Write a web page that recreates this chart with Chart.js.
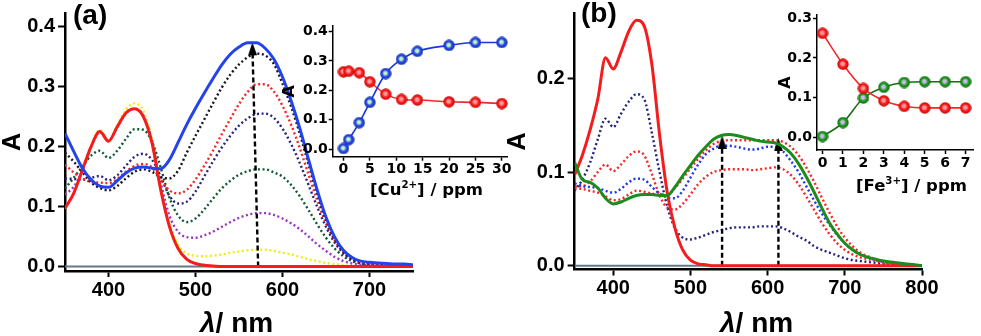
<!DOCTYPE html>
<html>
<head>
<meta charset="utf-8">
<script src="https://cdn.jsdelivr.net/npm/chart.js@4.4.1/dist/chart.umd.min.js"></script>
<style>
  body { margin: 0; background: #fff; }
  #wrap { position: relative; width: 981px; height: 336px; overflow: hidden;
          font-family: "Liberation Sans", Arial, sans-serif; font-weight: bold; color: #000; }
  #wrap canvas { position: absolute; }
  .lbl { position: absolute; white-space: nowrap; line-height: 1; }
  .ins { font-family: "DejaVu Sans", sans-serif; }
  .lbl sup { font-size: 0.62em; line-height: 0; vertical-align: 0.7em; }
</style>
</head>
<body>
<div id="wrap">
  <canvas id="mainA" width="440" height="336" style="left:0;top:0"></canvas>
  <canvas id="mainB" width="491" height="336" style="left:490px;top:0"></canvas>
  <canvas id="insetA" width="245" height="195" style="left:270px;top:10px"></canvas>
  <canvas id="insetB" width="206" height="190" style="left:775px;top:5px"></canvas>

  <div class="lbl" style="left:73px;top:1px;font-size:28px">(a)</div>
  <div class="lbl" style="left:581px;top:-1px;font-size:28px">(b)</div>
  <div class="lbl" style="left:200px;top:309px;font-size:28px"><i>λ</i>/ nm</div>
  <div class="lbl" style="left:720px;top:309px;font-size:28px"><i>λ</i>/ nm</div>
  <div class="lbl ins" style="left:370px;top:182px;font-size:16.5px">[Cu<sup>2+</sup>] / ppm</div>
  <div class="lbl ins" style="left:856px;top:178px;font-size:16.5px">[Fe<sup>3+</sup>] / ppm</div>
</div>

<script>
// ---- panel (a): Cu2+ titration spectra ----
const wlA = [350, 360, 370, 380, 390, 400, 410, 420, 430, 440, 450, 460, 470, 480, 490, 500, 510, 520, 530, 540,
  550, 560, 570, 580, 590, 600, 610, 620, 630, 640, 650, 660, 670, 680, 690, 700, 710, 720, 730, 740, 750];

const blueA = [0.222, 0.192, 0.164, 0.145, 0.134, 0.132, 0.143, 0.156, 0.164, 0.166, 0.164, 0.163, 0.178, 0.207,
  0.237, 0.264, 0.289, 0.313, 0.336, 0.354, 0.366, 0.373, 0.373, 0.364, 0.346, 0.316, 0.276, 0.230, 0.178, 0.127,
  0.082, 0.049, 0.027, 0.015, 0.009, 0.007, 0.006, 0.005, 0.004, 0.004, 0.003];
const blackA = [0.190, 0.175, 0.157, 0.140, 0.131, 0.127, 0.134, 0.147, 0.158, 0.162, 0.158, 0.149, 0.147, 0.160,
  0.190, 0.218, 0.245, 0.272, 0.298, 0.320, 0.337, 0.349, 0.355, 0.352, 0.338, 0.305, 0.266, 0.221, 0.170, 0.121,
  0.078, 0.046, 0.025, 0.013, 0.008, 0.006, 0.005, 0.004, 0.004, 0.003, 0.003];
const redDotA = [0.170, 0.157, 0.147, 0.141, 0.140, 0.139, 0.146, 0.158, 0.168, 0.171, 0.165, 0.145, 0.127, 0.122,
  0.128, 0.145, 0.168, 0.193, 0.220, 0.246, 0.271, 0.291, 0.304, 0.304, 0.292, 0.268, 0.236, 0.197, 0.153, 0.110,
  0.072, 0.043, 0.024, 0.012, 0.007, 0.005, 0.004, 0.003, 0.003, 0.002, 0.002];
const navyA = [0.147, 0.146, 0.145, 0.148, 0.151, 0.144, 0.152, 0.168, 0.183, 0.188, 0.178, 0.150, 0.118, 0.105,
  0.108, 0.125, 0.150, 0.175, 0.198, 0.218, 0.235, 0.247, 0.254, 0.255, 0.248, 0.230, 0.204, 0.172, 0.136, 0.099,
  0.066, 0.040, 0.022, 0.011, 0.006, 0.004, 0.003, 0.003, 0.002, 0.002, 0.002];
const greenDotA = [0.130, 0.148, 0.167, 0.185, 0.193, 0.181, 0.193, 0.213, 0.229, 0.228, 0.208, 0.165, 0.115, 0.085,
  0.074, 0.080, 0.095, 0.113, 0.130, 0.143, 0.153, 0.159, 0.162, 0.162, 0.157, 0.150, 0.136, 0.117, 0.094, 0.070,
  0.048, 0.030, 0.017, 0.009, 0.005, 0.003, 0.002, 0.002, 0.001, 0.001, 0.001];
const purpleA = [0.120, 0.133, 0.160, 0.200, 0.224, 0.210, 0.232, 0.255, 0.263, 0.252, 0.210, 0.140, 0.085, 0.058,
  0.049, 0.048, 0.052, 0.058, 0.066, 0.074, 0.081, 0.086, 0.089, 0.089, 0.086, 0.080, 0.072, 0.062, 0.050, 0.037,
  0.026, 0.016, 0.009, 0.005, 0.003, 0.002, 0.001, 0.001, 0.001, 0.001, 0.001];
const yellowA = [0.097, 0.122, 0.162, 0.200, 0.228, 0.209, 0.235, 0.262, 0.272, 0.260, 0.212, 0.133, 0.072, 0.036,
  0.022, 0.018, 0.017, 0.018, 0.020, 0.023, 0.025, 0.027, 0.028, 0.028, 0.026, 0.023, 0.020, 0.016, 0.012, 0.009,
  0.006, 0.004, 0.002, 0.001, 0.001, 0, 0, 0, 0, 0, 0];
const redSolidA = [0.097, 0.122, 0.161, 0.200, 0.225, 0.209, 0.233, 0.256, 0.263, 0.250, 0.206, 0.128, 0.067, 0.030,
  0.012, 0.005, 0.002, 0.001, 0, 0, 0, 0, 0, 0, 0, 0, 0, 0, 0, 0, 0, 0, 0, 0, 0, 0, 0, 0, 0, 0, 0];

const baseAx = [350, 750];
const baseAy = [0, 0];
const arrowAx = [572, 565.5];
const arrowAy = [0, 0.363];

const xTicksA = [400, 500, 600, 700];
const yTicksA = [0, 0.1, 0.2, 0.3, 0.4];

// ---- panel (b): Fe3+ titration spectra ----
const wlB = [350, 360, 370, 380, 390, 400, 410, 420, 430, 440, 450, 460, 470, 480, 490, 500, 510, 520, 530, 540,
  550, 560, 570, 580, 590, 600, 610, 620, 630, 640, 650, 660, 670, 680, 690, 700, 710, 720, 730, 740, 750, 760,
  770, 780, 790, 800];

const redSolidB = [0.097, 0.118, 0.145, 0.178, 0.222, 0.210, 0.228, 0.250, 0.262, 0.256, 0.215, 0.140, 0.078, 0.040,
  0.017, 0.006, 0.002, 0.001, 0, 0, 0, 0, 0, 0, 0, 0, 0, 0, 0, 0, 0, 0, 0, 0, 0, 0, 0, 0, 0, 0, 0, 0, 0, 0, 0, 0];
const navyB = [0.080, 0.092, 0.110, 0.135, 0.157, 0.148, 0.162, 0.175, 0.183, 0.178, 0.142, 0.100, 0.063, 0.040,
  0.030, 0.028, 0.030, 0.033, 0.036, 0.038, 0.040, 0.041, 0.041, 0.041, 0.042, 0.042, 0.042, 0.040, 0.036, 0.031,
  0.027, 0.021, 0.017, 0.014, 0.011, 0.008, 0.006, 0.005, 0.004, 0.003, 0.002, 0.001, 0.001, 0.001, 0, 0];
const redDot1B = [0.085, 0.085, 0.090, 0.100, 0.108, 0.101, 0.108, 0.117, 0.122, 0.118, 0.098, 0.075, 0.062, 0.060,
  0.066, 0.076, 0.087, 0.095, 0.100, 0.102, 0.103, 0.103, 0.103, 0.102, 0.103, 0.104, 0.105, 0.103, 0.097, 0.087,
  0.074, 0.060, 0.046, 0.034, 0.024, 0.017, 0.012, 0.009, 0.007, 0.005, 0.003, 0.002, 0.001, 0, 0, 0];
const blueDotB = [0.088, 0.085, 0.084, 0.083, 0.080, 0.078, 0.082, 0.089, 0.093, 0.092, 0.084, 0.077, 0.073, 0.072,
  0.080, 0.094, 0.108, 0.119, 0.125, 0.128, 0.128, 0.127, 0.125, 0.124, 0.125, 0.127, 0.127, 0.122, 0.112, 0.100,
  0.085, 0.070, 0.056, 0.044, 0.033, 0.024, 0.017, 0.012, 0.009, 0.006, 0.004, 0.003, 0.002, 0.001, 0.001, 0];
const redDot2B = [0.083, 0.082, 0.080, 0.078, 0.074, 0.070, 0.071, 0.076, 0.080, 0.079, 0.077, 0.076, 0.076, 0.083,
  0.093, 0.104, 0.114, 0.123, 0.130, 0.133, 0.134, 0.134, 0.134, 0.134, 0.134, 0.134, 0.134, 0.132, 0.127, 0.118,
  0.105, 0.090, 0.073, 0.057, 0.042, 0.030, 0.021, 0.014, 0.010, 0.007, 0.005, 0.003, 0.002, 0.001, 0, 0];
const greenB = [0.110, 0.092, 0.089, 0.083, 0.072, 0.066, 0.068, 0.072, 0.075, 0.076, 0.076, 0.075, 0.075, 0.084,
  0.096, 0.107, 0.118, 0.127, 0.135, 0.139, 0.140, 0.139, 0.137, 0.135, 0.133, 0.132, 0.131, 0.127, 0.120, 0.109,
  0.095, 0.079, 0.062, 0.046, 0.034, 0.024, 0.017, 0.012, 0.009, 0.007, 0.005, 0.004, 0.003, 0.002, 0.001, 0];

const baseBx = [350, 800];
const baseBy = [0, 0];
const arrowB1x = [541, 541];
const arrowB1y = [0, 0.132];
const arrowB2x = [614, 614];
const arrowB2y = [0, 0.129];

const xTicksB = [400, 500, 600, 700, 800];
const yTicksB = [0, 0.1, 0.2];

// ---- insets ----
const cuPpm = [0, 1, 3, 5, 8, 11, 14, 20, 25, 30];
const cuBlue = [0.002, 0.032, 0.090, 0.159, 0.257, 0.306, 0.333, 0.353, 0.363, 0.363];
const cuRed = [0.263, 0.265, 0.260, 0.229, 0.187, 0.169, 0.167, 0.161, 0.159, 0.155];
const cuXTicks = [0, 5, 10, 15, 20, 25, 30];
const cuYTicks = [0, 0.1, 0.2, 0.3, 0.4];

const fePpm = [0, 1, 2, 3, 4, 5, 6, 7];
const feRed = [0.262, 0.184, 0.123, 0.092, 0.078, 0.074, 0.074, 0.074];
const feGreen = [0.002, 0.037, 0.099, 0.126, 0.138, 0.140, 0.140, 0.140];
const feXTicks = [0, 1, 2, 3, 4, 5, 6, 7];
const feYTicks = [0, 0.1, 0.2, 0.3];

// ---------------------------------------------------------------
const MAIN_FONT = '"Liberation Sans", Arial, sans-serif';
const INSET_FONT = '"DejaVu Sans", sans-serif';
Chart.defaults.font.family = MAIN_FONT;
Chart.defaults.font.weight = 'bold';
Chart.defaults.color = '#000';

const pts = (xs, ys) => xs.map((x, i) => ({ x: x, y: ys[i] }));

function solid(xs, ys, color, w) {
  return { data: pts(xs, ys), borderColor: color, borderWidth: w, pointRadius: 0,
    cubicInterpolationMode: 'monotone', fill: false };
}
function dotted(xs, ys, color) {
  const d = solid(xs, ys, color, 2.4);
  d.borderDash = [2, 2.6];
  return d;
}

// narrow arrow head, tip pointing up
function arrowHead() {
  const c = document.createElement('canvas');
  c.width = 9; c.height = 13;
  const g = c.getContext('2d');
  g.fillStyle = '#000';
  g.beginPath(); g.moveTo(4.5, 0); g.lineTo(9, 13); g.lineTo(0, 13); g.closePath(); g.fill();
  return c;
}
const head = arrowHead();

function arrow(xs, ys, rot) {
  return { data: pts(xs, ys), borderColor: '#000', borderWidth: 2.4, borderDash: [5, 3],
    pointStyle: head, pointRadius: [0, 6], rotation: [0, rot], tension: 0 };
}

// shaded sphere markers for the insets
function ball(light, base, edge) {
  const d = 12, r = d / 2;
  const c = document.createElement('canvas');
  c.width = d; c.height = d;
  const g = c.getContext('2d');
  const grad = g.createRadialGradient(r - 0.6, r - 0.6, 0, r, r, r);
  grad.addColorStop(0, light);
  grad.addColorStop(0.28, light);
  grad.addColorStop(0.5, base);
  grad.addColorStop(1, edge);
  g.fillStyle = grad;
  g.beginPath(); g.arc(r, r, r - 0.3, 0, Math.PI * 2); g.fill();
  return c;
}
const blueBall = ball('#c4f2c0', '#2c52ee', '#1228a8');
const redBall = ball('#ff9a9a', '#ff2424', '#c40000');
const greenBall = ball('#cdb8f2', '#26a626', '#0b620b');

function axis(o) {
  return {
    type: 'linear',
    min: o.min,
    max: o.max,
    afterBuildTicks: (s) => { s.ticks = o.ticks.map((v) => ({ value: v })); },
    afterFit: (s) => { if (s.isHorizontal()) s.height = o.size; else s.width = o.size; },
    grid: { display: true, drawOnChartArea: false, drawTicks: true, tickLength: o.tick,
      tickWidth: o.tickW, tickColor: '#000' },
    border: { display: true, color: '#000', width: o.line },
    ticks: { autoSkip: false, maxRotation: 0, padding: o.pad, color: '#000',
      font: { family: o.family, size: o.font, weight: 'bold', lineHeight: 1 }, callback: o.fmt },
    title: o.title
      ? { display: true, text: o.title, color: '#000',
          font: { family: o.family, size: o.titleSize, weight: 'bold', lineHeight: 1 },
          padding: { top: o.titlePad, bottom: 0 } }
      : { display: false },
  };
}

function makeChart(id, datasets, pad, x, y) {
  return new Chart(document.getElementById(id), {
    type: 'line',
    data: { datasets: datasets },
    options: {
      responsive: false,
      animation: false,
      events: [],
      layout: { padding: { top: pad.top, right: pad.right, left: 0, bottom: 0 } },
      plugins: { legend: { display: false }, tooltip: { enabled: false } },
      scales: { x: x, y: y },
    },
  });
}

const fmt1 = (v) => v.toFixed(1);
const fmt0 = (v) => String(v);

// MAIN (a)
makeChart('mainA', [
  solid(wlA, blueA, '#2343ee', 3),
  solid(wlA, redSolidA, '#f41c1c', 3),
  arrow(arrowAx, arrowAy, -1.5),
  dotted(wlA, blackA, '#1c1420'),
  dotted(wlA, redDotA, '#f42626'),
  dotted(wlA, navyA, '#24237e'),
  dotted(wlA, greenDotA, '#0d5a30'),
  dotted(wlA, purpleA, '#9a34c4'),
  dotted(wlA, yellowA, '#f0ee10'),
  solid(baseAx, baseAy, '#667888', 2),
], { top: 13, right: 27 },
  axis({ min: 350, max: 750, ticks: xTicksA, size: 65, tick: 6, tickW: 2, line: 2.5, pad: 3,
    family: MAIN_FONT, font: 20, fmt: fmt0 }),
  axis({ min: -0.0075, max: 0.4228, ticks: yTicksA, size: 65, tick: 7, tickW: 2, line: 2.5, pad: 3,
    family: MAIN_FONT, font: 20, fmt: fmt1, title: 'A', titleSize: 25, titlePad: 1 }));

// MAIN (b)
makeChart('mainB', [
  solid(wlB, greenB, '#1c8c1c', 3),
  solid(wlB, redSolidB, '#f41c1c', 3),
  arrow(arrowB1x, arrowB1y, 0),
  arrow(arrowB2x, arrowB2y, 0),
  dotted(wlB, redDot2B, '#f42626'),
  dotted(wlB, blueDotB, '#2233f0'),
  dotted(wlB, redDot1B, '#f42626'),
  dotted(wlB, navyB, '#24237e'),
  solid(baseBx, baseBy, '#667888', 2),
], { top: 13.3, right: 59 },
  axis({ min: 350, max: 800, ticks: xTicksB, size: 66.5, tick: 6, tickW: 2, line: 2.5, pad: 3,
    family: MAIN_FONT, font: 20, fmt: fmt0 }),
  axis({ min: -0.004, max: 0.2694, ticks: yTicksB, size: 84.65, tick: 7, tickW: 2, line: 2.5, pad: 3,
    family: MAIN_FONT, font: 20, fmt: fmt1, title: 'A', titleSize: 25, titlePad: 16 }));

// inset datasets
function series(xs, ys, color, img) {
  return { data: pts(xs, ys), borderColor: color, borderWidth: 1.6, pointStyle: img, pointRadius: 6,
    cubicInterpolationMode: 'monotone', clip: false };
}

// INSET (a)
makeChart('insetA', [
  series(cuPpm, cuBlue, '#1836de', blueBall),
  series(cuPpm, cuRed, '#f02a2a', redBall),
], { top: 16, right: 7 },
  axis({ min: -2.04, max: 31.05, ticks: cuXTicks, size: 48.3, tick: 4, tickW: 1.5, line: 1.5, pad: 2,
    family: INSET_FONT, font: 14, fmt: fmt0 }),
  axis({ min: -0.026, max: 0.419, ticks: cuYTicks, size: 62.7, tick: 4, tickW: 1.5, line: 1.5, pad: 1,
    family: INSET_FONT, font: 14, fmt: fmt1, title: 'A', titleSize: 16, titlePad: 12 }));

// INSET (b)
makeChart('insetB', [
  series(fePpm, feRed, '#f02a2a', redBall),
  series(fePpm, feGreen, '#146e14', greenBall),
], { top: 10, right: 3 },
  axis({ min: -0.27, max: 7.38, ticks: feXTicks, size: 45, tick: 4, tickW: 1.5, line: 1.5, pad: 2,
    family: INSET_FONT, font: 14, fmt: fmt0 }),
  axis({ min: -0.032, max: 0.308, ticks: feYTicks, size: 42, tick: 4, tickW: 1.5, line: 1.5, pad: 1,
    family: INSET_FONT, font: 14, fmt: fmt1, title: 'A', titleSize: 16, titlePad: 3 }));
</script>
</body>
</html>
